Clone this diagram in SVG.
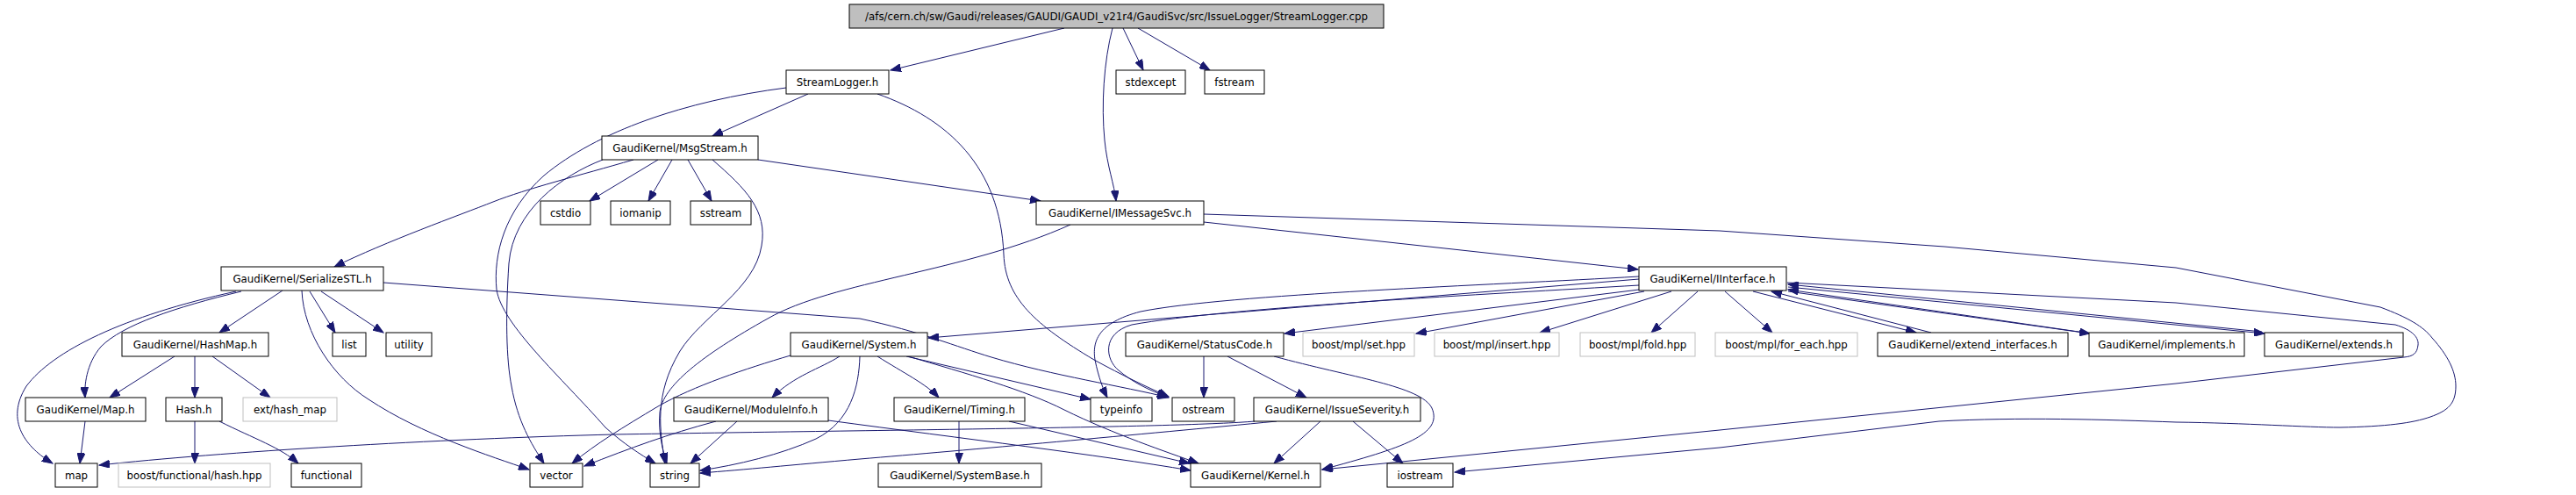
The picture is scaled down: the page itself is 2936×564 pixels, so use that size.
<svg xmlns="http://www.w3.org/2000/svg" width="2936" height="564" viewBox="0 0 2936 564">
<style>
.n rect{fill:#fff;stroke:#000;stroke-width:1}
.n.g rect{stroke:#bfbfbf}
.n.r rect{fill:#bfbfbf}
.n text{font-family:"DejaVu Sans",sans-serif;font-size:11.8px;text-anchor:middle;fill:#000}
#edges path{fill:none;stroke:#191970;stroke-width:1;marker-end:url(#a)}
</style>
<defs>
<marker id="a" markerUnits="userSpaceOnUse" markerWidth="13" markerHeight="9" refX="12" refY="4.5" orient="auto">
<path d="M0,0 L12,4.5 L0,9 z" fill="#191970" stroke="#191970" stroke-width="1"/>
</marker>
</defs>
<rect width="2936" height="564" fill="#fff"/>
<g id="edges">
<path d="M1213,32 L1015,80"/>
<path d="M1268,32 C1258,70 1255,120 1259,160 C1262,190 1270,210 1272,229"/>
<path d="M1280,32 L1303,80"/>
<path d="M1297,32 L1379,80"/>
<path d="M921,107 L812,155"/>
<path d="M896,100 C780,115 680,150 620,200 C575,240 562,290 566,330 C572,370 640,430 690,487 C710,505 730,518 747,528"/>
<path d="M1000,107 C1080,135 1140,190 1144,290 C1146,340 1180,370 1247,410 C1280,428 1305,440 1332,452"/>
<path d="M750,182 L672,229"/>
<path d="M766,182 L739,229"/>
<path d="M784,182 L811,229"/>
<path d="M812,182 C850,215 875,240 868,280 C860,330 800,360 775,400 C745,450 752,490 758,528"/>
<path d="M687,182 C640,200 585,240 580,300 C576,360 577,410 583,440 C590,480 605,505 620,528"/>
<path d="M722,182 C660,200 600,215 562,230 S440,275 381,304"/>
<path d="M864,182 L1186,229"/>
<path d="M1372,253 L1867,307"/>
<path d="M1220,256 C1100,310 950,320 875,363 C800,405 755,440 752,470 C750,495 756,515 760,528"/>
<path d="M1372,244 L1960,263 L2216,281 L2480,305 L2713,350 C2745,362 2762,372 2772,385 C2790,405 2799,423 2799,440 C2799,460 2790,468 2770,475 C2750,482 2720,486 2667,487 C2630,487 2560,482 2480,481 C2400,478 2300,475 2210,480 L1960,510 L1658,538"/>
<path d="M322,331 L250,379"/>
<path d="M353,332 L382,379"/>
<path d="M366,332 L437,379"/>
<path d="M344,331 C346,380 380,430 420,455 C480,495 560,520 603,535"/>
<path d="M437,322 L980,363 C1050,378 1090,395 1130,407 C1200,428 1280,440 1332,453"/>
<path d="M269,332 C140,360 60,400 30,440 C5,480 30,510 60,528"/>
<path d="M275,332 C200,350 140,370 115,395 C98,415 96,440 97,453"/>
<path d="M199,406 L125,453"/>
<path d="M222,406 L222,453"/>
<path d="M242,406 L308,453"/>
<path d="M97,480 L91,528"/>
<path d="M222,480 L222,528"/>
<path d="M250,480 C290,500 320,510 340,528"/>
<path d="M901,405 C850,420 790,440 750,463 C710,487 680,505 652,528"/>
<path d="M980,406 C979,440 970,480 930,500 C890,518 840,530 798,536"/>
<path d="M957,406 C935,420 905,428 880,453"/>
<path d="M1000,406 C1030,425 1055,437 1070,453"/>
<path d="M1033,406 L1243,455"/>
<path d="M1035,406 C1100,425 1170,445 1213,467 C1270,495 1330,515 1366,528"/>
<path d="M1093,480 L1093,528"/>
<path d="M1150,480 L1356,528"/>
<path d="M816,480 C760,495 720,510 666,531"/>
<path d="M840,480 L787,528"/>
<path d="M944,479 C1100,500 1250,518 1357,536"/>
<path d="M1372,406 L1372,453"/>
<path d="M1399,406 L1489,453"/>
<path d="M1452,406 C1540,430 1620,440 1632,465 C1645,495 1600,510 1507,535"/>
<path d="M1505,480 L1452,528"/>
<path d="M1542,480 L1599,528"/>
<path d="M1430,480 C1350,487 1000,490 700,495 C500,500 250,515 113,530"/>
<path d="M1455,480 C1300,495 1100,513 980,523 C900,530 850,535 798,539"/>
<path d="M1868,318 L1058,385"/>
<path d="M1868,315 C1700,325 1400,335 1300,355 C1250,368 1245,390 1248,410 C1252,430 1258,445 1262,453"/>
<path d="M1868,325 C1700,335 1400,350 1290,370 C1255,380 1260,410 1275,422 C1290,435 1310,445 1331,452"/>
<path d="M1868,330 L1464,380"/>
<path d="M1874,332 L1614,380"/>
<path d="M1905,332 L1755,379"/>
<path d="M1935,332 L1882,379"/>
<path d="M1966,332 L2020,379"/>
<path d="M1998,332 L2184,379"/>
<path d="M2201,379 L2019,332"/>
<path d="M2038,332 L2382,380"/>
<path d="M2376,379 L2038,330"/>
<path d="M2038,327 L2581,380"/>
<path d="M2578,378 L2038,324"/>
<path d="M2037,322 L2480,345 L2730,370 C2750,376 2757,385 2756,393 C2755,403 2750,406 2740,407 L2480,437 L1960,490 L1507,535"/>
</g>
<g id="n0" class="n r"><rect x="968" y="5" width="609" height="27"/><text x="1272.5" y="23">/afs/cern.ch/sw/Gaudi/releases/GAUDI/GAUDI_v21r4/GaudiSvc/src/IssueLogger/StreamLogger.cpp</text></g>
<g id="n1" class="n"><rect x="896" y="80" width="117" height="27"/><text x="954.5" y="98">StreamLogger.h</text></g>
<g id="n2" class="n"><rect x="1272" y="80" width="79" height="27"/><text x="1311.5" y="98">stdexcept</text></g>
<g id="n3" class="n"><rect x="1373" y="80" width="68" height="27"/><text x="1407" y="98">fstream</text></g>
<g id="n4" class="n"><rect x="686" y="155" width="178" height="27"/><text x="775" y="173">GaudiKernel/MsgStream.h</text></g>
<g id="n5" class="n"><rect x="616" y="229" width="57" height="27"/><text x="644.5" y="247">cstdio</text></g>
<g id="n6" class="n"><rect x="696" y="229" width="68" height="27"/><text x="730" y="247">iomanip</text></g>
<g id="n7" class="n"><rect x="787" y="229" width="69" height="27"/><text x="821.5" y="247">sstream</text></g>
<g id="n8" class="n"><rect x="1181" y="229" width="191" height="27"/><text x="1276.5" y="247">GaudiKernel/IMessageSvc.h</text></g>
<g id="n9" class="n"><rect x="252" y="304" width="185" height="27"/><text x="344.5" y="322">GaudiKernel/SerializeSTL.h</text></g>
<g id="n10" class="n"><rect x="1868" y="304" width="168" height="27"/><text x="1952" y="322">GaudiKernel/IInterface.h</text></g>
<g id="n11" class="n"><rect x="139" y="379" width="167" height="27"/><text x="222.5" y="397">GaudiKernel/HashMap.h</text></g>
<g id="n12" class="n"><rect x="379" y="379" width="38" height="27"/><text x="398" y="397">list</text></g>
<g id="n13" class="n"><rect x="440" y="379" width="52" height="27"/><text x="466" y="397">utility</text></g>
<g id="n14" class="n"><rect x="901" y="379" width="156" height="27"/><text x="979" y="397">GaudiKernel/System.h</text></g>
<g id="n15" class="n"><rect x="1283" y="379" width="180" height="27"/><text x="1373" y="397">GaudiKernel/StatusCode.h</text></g>
<g id="n16" class="n g"><rect x="1485" y="379" width="127" height="27"/><text x="1548.5" y="397">boost/mpl/set.hpp</text></g>
<g id="n17" class="n g"><rect x="1635" y="379" width="142" height="27"/><text x="1706" y="397">boost/mpl/insert.hpp</text></g>
<g id="n18" class="n g"><rect x="1801" y="379" width="131" height="27"/><text x="1866.5" y="397">boost/mpl/fold.hpp</text></g>
<g id="n19" class="n g"><rect x="1955" y="379" width="162" height="27"/><text x="2036" y="397">boost/mpl/for_each.hpp</text></g>
<g id="n20" class="n"><rect x="2140" y="379" width="217" height="27"/><text x="2248.5" y="397">GaudiKernel/extend_interfaces.h</text></g>
<g id="n21" class="n"><rect x="2381" y="379" width="177" height="27"/><text x="2469.5" y="397">GaudiKernel/implements.h</text></g>
<g id="n22" class="n"><rect x="2581" y="379" width="158" height="27"/><text x="2660" y="397">GaudiKernel/extends.h</text></g>
<g id="n23" class="n"><rect x="29" y="453" width="137" height="27"/><text x="97.5" y="471">GaudiKernel/Map.h</text></g>
<g id="n24" class="n"><rect x="189" y="453" width="64" height="27"/><text x="221" y="471">Hash.h</text></g>
<g id="n25" class="n g"><rect x="277" y="453" width="107" height="27"/><text x="330.5" y="471">ext/hash_map</text></g>
<g id="n26" class="n"><rect x="768" y="453" width="176" height="27"/><text x="856" y="471">GaudiKernel/ModuleInfo.h</text></g>
<g id="n27" class="n"><rect x="1019" y="453" width="149" height="27"/><text x="1093.5" y="471">GaudiKernel/Timing.h</text></g>
<g id="n28" class="n"><rect x="1243" y="453" width="70" height="27"/><text x="1278" y="471">typeinfo</text></g>
<g id="n29" class="n"><rect x="1336" y="453" width="71" height="27"/><text x="1371.5" y="471">ostream</text></g>
<g id="n30" class="n"><rect x="1429" y="453" width="190" height="27"/><text x="1524" y="471">GaudiKernel/IssueSeverity.h</text></g>
<g id="n31" class="n"><rect x="63" y="528" width="48" height="27"/><text x="87" y="546">map</text></g>
<g id="n32" class="n g"><rect x="135" y="528" width="173" height="27"/><text x="221.5" y="546">boost/functional/hash.hpp</text></g>
<g id="n33" class="n"><rect x="332" y="528" width="80" height="27"/><text x="372" y="546">functional</text></g>
<g id="n34" class="n"><rect x="604" y="528" width="60" height="27"/><text x="634" y="546">vector</text></g>
<g id="n35" class="n"><rect x="741" y="528" width="56" height="27"/><text x="769" y="546">string</text></g>
<g id="n36" class="n"><rect x="1001" y="528" width="186" height="27"/><text x="1094" y="546">GaudiKernel/SystemBase.h</text></g>
<g id="n37" class="n"><rect x="1357" y="528" width="148" height="27"/><text x="1431" y="546">GaudiKernel/Kernel.h</text></g>
<g id="n38" class="n"><rect x="1581" y="528" width="75" height="27"/><text x="1618.5" y="546">iostream</text></g>
</svg>
